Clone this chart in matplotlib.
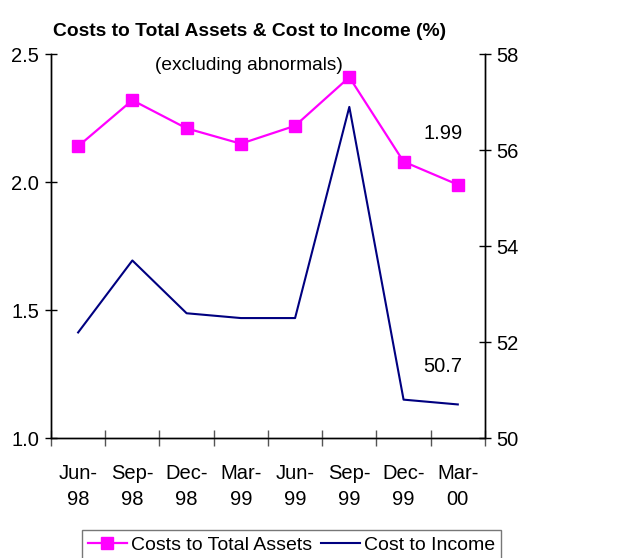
import numpy as np
import matplotlib.pyplot as plt

plt.rcParams['font.family'] = ['Liberation Sans', 'DejaVu Sans']

# chart data
quarters = ['Jun-\n98', 'Sep-\n98', 'Dec-\n98', 'Mar-\n99', 'Jun-\n99', 'Sep-\n99', 'Dec-\n99', 'Mar-\n00']
cost_to_assets = [2.14, 2.32, 2.21, 2.15, 2.22, 2.41, 2.08, 1.99]
cost_to_income = [52.2, 53.7, 52.6, 52.5, 52.5, 56.9, 50.8, 50.7]
left_ticks = [1.0, 1.5, 2.0, 2.5]
right_ticks = [50, 52, 54, 56, 58]

fs = 14.5

fig = plt.figure(figsize=(6.19, 5.58), dpi=100)
ax = fig.add_axes([0.0824, 0.215, 0.701, 0.688])
ax2 = ax.twinx()

x = np.arange(len(quarters))
l1, = ax.plot(x, cost_to_assets, color='#ff00ff', lw=1.6, marker='s', ms=8,
              label='Costs to Total Assets', zorder=3)
l2, = ax2.plot(x, cost_to_income, color='#000080', lw=1.5, label='Cost to Income')

ax.set_zorder(ax2.get_zorder() + 1)
ax.patch.set_visible(False)

ax.set_xlim(-0.5, len(quarters) - 0.5)
ax.set_ylim(1.0, 2.5)
ax2.set_ylim(50, 58)

ax.set_xticks(x)
ax.set_xticklabels(quarters, fontsize=fs, linespacing=1.45)
ax.set_xticks(np.arange(len(quarters) + 1) - 0.5, minor=True)
ax.tick_params(axis='x', which='major', length=0, pad=19)
ax.tick_params(axis='x', which='minor', length=11, direction='inout', width=1, color='#555555')

ax.set_yticks(left_ticks)
ax.set_yticklabels(['%.1f' % v for v in left_ticks], fontsize=fs)
ax.tick_params(axis='y', length=9, direction='inout', width=1, pad=4)
ax2.set_yticks(right_ticks)
ax2.set_yticklabels([str(v) for v in right_ticks], fontsize=fs)
ax2.tick_params(axis='y', length=9, direction='inout', width=1, pad=4)

for a in (ax, ax2):
    a.spines['top'].set_visible(False)
    for s in a.spines.values():
        s.set_linewidth(1)

# value labels for the last quarter
ax.text(x[-1] - 0.27, 2.19, '%.2f' % cost_to_assets[-1], fontsize=fs, ha='center', va='center')
ax2.text(x[-1] - 0.27, 51.5, '%.1f' % cost_to_income[-1], fontsize=fs, ha='center', va='center')

fig.text(0.403, 0.944, 'Costs to Total Assets & Cost to Income (%)', fontsize=13.9,
         fontweight='bold', ha='center', va='center')
ax.text(0.456, 0.97, '(excluding abnormals)', fontsize=13.8, ha='center', va='center',
        transform=ax.transAxes)

fig.legend(handles=[l1, l2], loc='upper center', bbox_to_anchor=(0.471, 0.05),
           ncol=2, fontsize=14, frameon=True, fancybox=False, edgecolor='#555555',
           handlelength=2.0, handletextpad=0.2, columnspacing=0.5, borderpad=0.3,
           borderaxespad=0)

fig.savefig('out.png', dpi=100)
